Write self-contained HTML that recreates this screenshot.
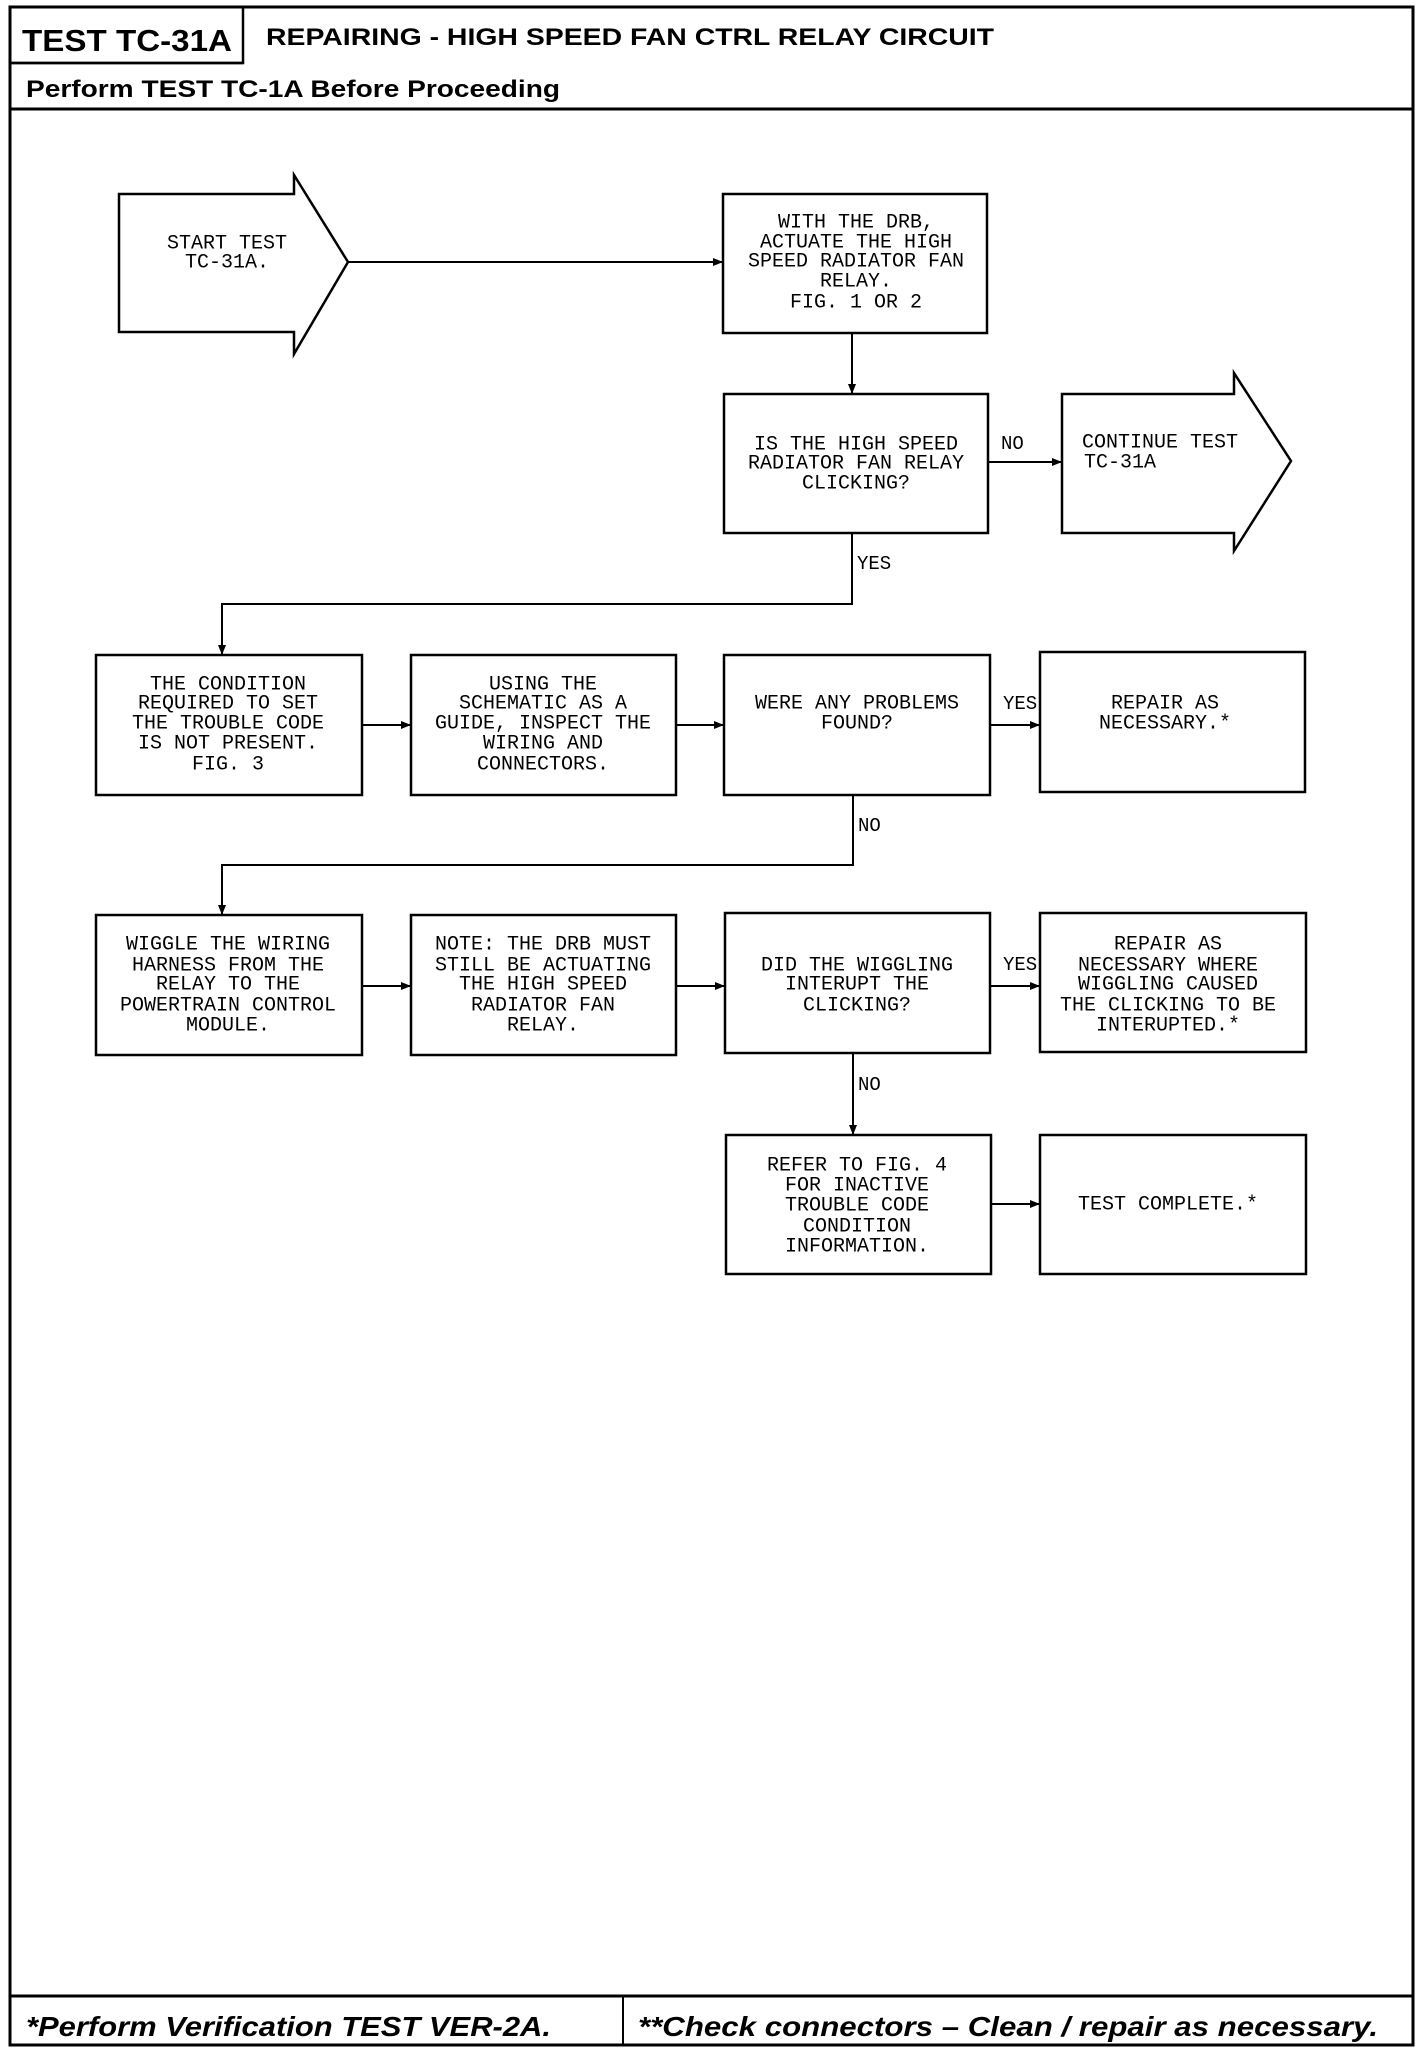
<!DOCTYPE html>
<html><head><meta charset="utf-8"><style>
html,body{margin:0;padding:0;background:#fff}
svg{display:block}
.t{font-family:"Liberation Mono",monospace;font-size:20px;fill:#000;text-anchor:middle;dominant-baseline:middle}
.h{font-family:"Liberation Sans",sans-serif;font-weight:bold;fill:#000}
.b{fill:#fff;stroke:#000;stroke-width:2.5}
.l{fill:none;stroke:#000;stroke-width:2}
.lab{font-family:"Liberation Mono",monospace;font-size:19px;fill:#000}
</style></head><body>
<svg width="1424" height="2048" viewBox="0 0 1424 2048" xmlns="http://www.w3.org/2000/svg">
<defs><marker id="a" markerWidth="10" markerHeight="8" refX="9" refY="4" orient="auto" markerUnits="userSpaceOnUse"><path d="M0,0 L10,4 L0,8 z" fill="#000"/></marker></defs>
<!-- frame -->
<rect x="10" y="7" width="1403" height="2038" fill="none" stroke="#000" stroke-width="3"/>
<rect x="10" y="7" width="233" height="56" fill="none" stroke="#000" stroke-width="2.5"/>
<line x1="10" y1="63" x2="243" y2="63" stroke="#000" stroke-width="2.5"/>
<line x1="10" y1="109" x2="1413" y2="109" stroke="#000" stroke-width="3"/>
<line x1="10" y1="1996" x2="1413" y2="1996" stroke="#000" stroke-width="3"/>
<line x1="623" y1="1996" x2="623" y2="2045" stroke="#000" stroke-width="2"/>
<text class="h" x="22" y="51" font-size="31" textLength="210" lengthAdjust="spacingAndGlyphs">TEST TC-31A</text>
<text class="h" x="266" y="45" font-size="24" textLength="728" lengthAdjust="spacingAndGlyphs">REPAIRING - HIGH SPEED FAN CTRL RELAY CIRCUIT</text>
<text class="h" x="26" y="97" font-size="24" textLength="534" lengthAdjust="spacingAndGlyphs">Perform TEST TC-1A Before Proceeding</text>
<text class="h" x="26" y="2036" font-size="28" font-style="italic" textLength="525" lengthAdjust="spacingAndGlyphs">*Perform Verification TEST VER-2A.</text>
<text class="h" x="638" y="2036" font-size="28" font-style="italic" textLength="740" lengthAdjust="spacingAndGlyphs">**Check connectors – Clean / repair as necessary.</text>

<!-- start arrow -->
<path class="b" d="M119,194 L294,194 L294,175 L348,262 L294,354 L294,332 L119,332 Z"/>
<text class="t" x="227" y="243">START TEST</text>
<text class="t" x="227" y="262">TC-31A.</text>
<!-- continue arrow -->
<path class="b" d="M1062,394 L1234,394 L1234,373 L1291,461 L1234,551 L1234,533 L1062,533 Z"/>
<text class="t" x="1160" y="442">CONTINUE TEST</text>
<text class="t" x="1120" y="462">TC-31A</text>

<!-- boxes -->
<rect class="b" x="723" y="194" width="264" height="139"/>
<text class="t" x="856" y="222">WITH THE DRB,</text>
<text class="t" x="856" y="242">ACTUATE THE HIGH</text>
<text class="t" x="856" y="261">SPEED RADIATOR FAN</text>
<text class="t" x="856" y="281">RELAY.</text>
<text class="t" x="856" y="302">FIG. 1 OR 2</text>

<rect class="b" x="724" y="394" width="264" height="139"/>
<text class="t" x="856" y="444">IS THE HIGH SPEED</text>
<text class="t" x="856" y="463">RADIATOR FAN RELAY</text>
<text class="t" x="856" y="483">CLICKING?</text>

<rect class="b" x="96" y="655" width="266" height="140"/>
<text class="t" x="228" y="684">THE CONDITION</text>
<text class="t" x="228" y="703">REQUIRED TO SET</text>
<text class="t" x="228" y="723">THE TROUBLE CODE</text>
<text class="t" x="228" y="743">IS NOT PRESENT.</text>
<text class="t" x="228" y="764">FIG. 3</text>

<rect class="b" x="411" y="655" width="265" height="140"/>
<text class="t" x="543" y="684">USING THE</text>
<text class="t" x="543" y="703">SCHEMATIC AS A</text>
<text class="t" x="543" y="723">GUIDE, INSPECT THE</text>
<text class="t" x="543" y="743">WIRING AND</text>
<text class="t" x="543" y="764">CONNECTORS.</text>

<rect class="b" x="724" y="655" width="266" height="140"/>
<text class="t" x="857" y="703">WERE ANY PROBLEMS</text>
<text class="t" x="857" y="723">FOUND?</text>

<rect class="b" x="1040" y="652" width="265" height="140"/>
<text class="t" x="1165" y="703">REPAIR AS</text>
<text class="t" x="1165" y="723">NECESSARY.*</text>

<rect class="b" x="96" y="915" width="266" height="140"/>
<text class="t" x="228" y="944">WIGGLE THE WIRING</text>
<text class="t" x="228" y="965">HARNESS FROM THE</text>
<text class="t" x="228" y="984">RELAY TO THE</text>
<text class="t" x="228" y="1005">POWERTRAIN CONTROL</text>
<text class="t" x="228" y="1025">MODULE.</text>

<rect class="b" x="411" y="915" width="265" height="140"/>
<text class="t" x="543" y="944">NOTE: THE DRB MUST</text>
<text class="t" x="543" y="965">STILL BE ACTUATING</text>
<text class="t" x="543" y="984">THE HIGH SPEED</text>
<text class="t" x="543" y="1005">RADIATOR FAN</text>
<text class="t" x="543" y="1025">RELAY.</text>

<rect class="b" x="725" y="913" width="265" height="140"/>
<text class="t" x="857" y="965">DID THE WIGGLING</text>
<text class="t" x="857" y="984">INTERUPT THE</text>
<text class="t" x="857" y="1005">CLICKING?</text>

<rect class="b" x="1040" y="913" width="266" height="139"/>
<text class="t" x="1168" y="944">REPAIR AS</text>
<text class="t" x="1168" y="965">NECESSARY WHERE</text>
<text class="t" x="1168" y="984">WIGGLING CAUSED</text>
<text class="t" x="1168" y="1005">THE CLICKING TO BE</text>
<text class="t" x="1168" y="1025">INTERUPTED.*</text>

<rect class="b" x="726" y="1135" width="265" height="139"/>
<text class="t" x="857" y="1165">REFER TO FIG. 4</text>
<text class="t" x="857" y="1185">FOR INACTIVE</text>
<text class="t" x="857" y="1205">TROUBLE CODE</text>
<text class="t" x="857" y="1226">CONDITION</text>
<text class="t" x="857" y="1246">INFORMATION.</text>

<rect class="b" x="1040" y="1135" width="266" height="139"/>
<text class="t" x="1168" y="1204">TEST COMPLETE.*</text>

<!-- connectors -->
<line class="l" x1="348" y1="262" x2="722" y2="262" marker-end="url(#a)"/>
<line class="l" x1="852" y1="333" x2="852" y2="393" marker-end="url(#a)"/>
<line class="l" x1="988" y1="462" x2="1061" y2="462" marker-end="url(#a)"/>
<text class="lab" x="1001" y="449">NO</text>
<polyline class="l" points="852,533 852,604 222,604 222,654" marker-end="url(#a)"/>
<text class="lab" x="857" y="569">YES</text>
<line class="l" x1="362" y1="725" x2="410" y2="725" marker-end="url(#a)"/>
<line class="l" x1="676" y1="725" x2="723" y2="725" marker-end="url(#a)"/>
<line class="l" x1="990" y1="725" x2="1039" y2="725" marker-end="url(#a)"/>
<text class="lab" x="1003" y="709">YES</text>
<polyline class="l" points="853,795 853,865 222,865 222,914" marker-end="url(#a)"/>
<text class="lab" x="858" y="831">NO</text>
<line class="l" x1="362" y1="986" x2="410" y2="986" marker-end="url(#a)"/>
<line class="l" x1="676" y1="986" x2="724" y2="986" marker-end="url(#a)"/>
<line class="l" x1="990" y1="986" x2="1039" y2="986" marker-end="url(#a)"/>
<text class="lab" x="1003" y="970">YES</text>
<line class="l" x1="853" y1="1053" x2="853" y2="1134" marker-end="url(#a)"/>
<text class="lab" x="858" y="1090">NO</text>
<line class="l" x1="991" y1="1204" x2="1039" y2="1204" marker-end="url(#a)"/>
</svg>
</body></html>
